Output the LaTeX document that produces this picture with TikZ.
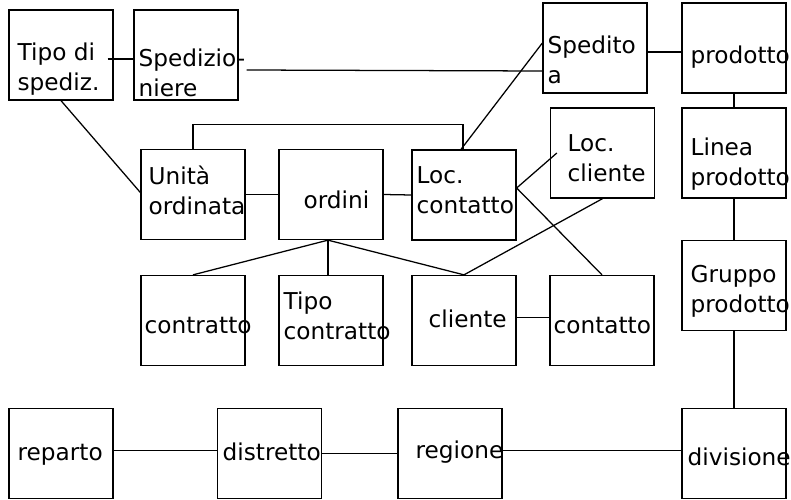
\documentclass[tikz,border=0pt]{standalone}
\usepackage{fontspec}
\setmainfont{DejaVu Sans}
\begin{document}
\begin{tikzpicture}[x=0.025cm, y=-0.025cm, line width=0.9pt,
  ent/.style={draw, rectangle, minimum width=2.6cm, minimum height=2.25cm, inner sep=0pt},
  lbl/.style={anchor=base west, inner sep=0pt, align=left, font=\fontsize{16.5}{21}\selectfont}]
  \useasboundingbox (0,0) rectangle (791,500);

  % entity boxes
  \node[ent] (tipo)      at (61,55)    {};
  \node[ent] (sped)      at (186,55)   {};
  \node[ent] (spa)       at (595,48)   {};
  \node[ent] (prod)      at (734,48)   {};
  \node[ent] (unita)     at (193,194.5) {};
  \node[ent] (ordini)    at (331,194.5) {};
  \node[ent] (loccon)    at (464,195)  {};
  \node[ent] (loccli)    at (602.5,153) {};
  \node[ent] (linea)     at (734,153)  {};
  \node[ent] (gruppo)    at (734,285.5) {};
  \node[ent] (contr)     at (193,320.5) {};
  \node[ent] (tipocontr) at (331,320.5) {};
  \node[ent] (cliente)   at (464,320.5) {};
  \node[ent] (contatto)  at (602,320.5) {};
  \node[ent] (reparto)   at (61,453.5) {};
  \node[ent] (distr)     at (269.5,453.5) {};
  \node[ent] (regione)   at (450,453.5) {};
  \node[ent] (divis)     at (734,453.5) {};

  % labels (base = last line)
  \node[lbl] (t-tipo)      at (17,90)   {Tipo di\\spediz.};
  \node[lbl] (t-sped)      at (138,96)  {Spedizio-\\niere};
  \node[lbl] (t-spa)       at (547,83)  {Spedito\\a};
  \node[lbl] (t-prod)      at (690,63)  {prodotto};
  \node[lbl] (t-unita)     at (148,214) {Unità\\ordinata};
  \node[lbl] (t-ordini)    at (303,208) {ordini};
  \node[lbl] (t-loccon)    at (416,213) {Loc.\\contatto};
  \node[lbl] (t-loccli)    at (567,181) {Loc.\\cliente};
  \node[lbl] (t-linea)     at (690,185) {Linea\\prodotto};
  \node[lbl] (t-gruppo)    at (690,312) {Gruppo\\prodotto};
  \node[lbl] (t-contr)     at (144,333) {contratto};
  \node[lbl] (t-tipocontr) at (283,339) {Tipo\\contratto};
  \node[lbl] (t-cliente)   at (428,327) {cliente};
  \node[lbl] (t-contatto)  at (553,333) {contatto};
  \node[lbl] (t-reparto)   at (17,460)  {reparto};
  \node[lbl] (t-distr)     at (222,460) {distretto};
  \node[lbl] (t-regione)   at (415,458) {regione};
  \node[lbl] (t-divis)     at (687,465) {divisione};

  % links, top part
  \draw ([shift={(-6,4)}]tipo.east) -- ([shift={(0,4)}]sped.west);
  \draw ([shift={(8,15)}]sped.east) -- ([shift={(0,23)}]spa.west);
  \draw (tipo.south) -- ([shift={(0,-2)}]unita.west);
  \draw (spa.east |- 0,52) -- (prod.west |- 0,52);
  \draw (prod.south) -- (linea.north);
  \draw (linea.south) -- (gruppo.north);
  \draw (gruppo.south) -- (divis.north);

  % links around ordini
  \draw (unita.east) -- (ordini.west);
  \draw (ordini.east) -- (loccon.west);
  \draw (unita.north) -- ++(0,-24) -| ([shift={(-1,0)}]loccon.north);
  \draw ([shift={(-3,0)}]loccon.north) -- ([shift={(0,-5)}]spa.west);
  \draw ([shift={(0,-7)}]loccon.east) -- ([shift={(7,0)}]loccli.west);
  \draw ([shift={(0,-7)}]loccon.east) -- (contatto.north);
  \draw (loccli.south) -- (cliente.north);
  \draw ([shift={(-3,0)}]ordini.south) -- (contr.north);
  \draw ([shift={(-3,0)}]ordini.south) -- ([shift={(-3,0)}]tipocontr.north);
  \draw ([shift={(-3,0)}]ordini.south) -- (cliente.north);
  \draw ([shift={(0,-3)}]cliente.east) -- ([shift={(0,-3)}]contatto.west);

  % bottom row
  \draw ([shift={(0,-3)}]reparto.east) -- ([shift={(0,-3)}]distr.west);
  \draw (distr.east) -- (regione.west);
  \draw ([shift={(0,-3)}]regione.east) -- ([shift={(0,-3)}]divis.west);
\end{tikzpicture}
\end{document}
